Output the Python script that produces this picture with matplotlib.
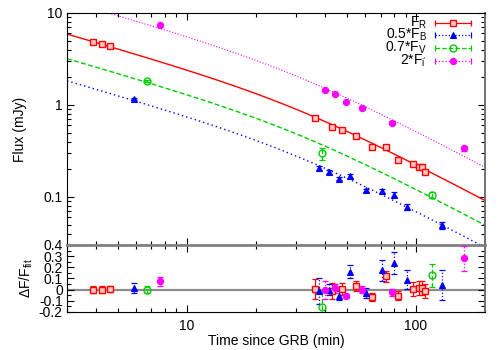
import numpy as np
import matplotlib
matplotlib.use('Agg')
import matplotlib.pyplot as plt
from matplotlib.ticker import FuncFormatter, LogLocator, MultipleLocator, NullFormatter, FixedLocator

plt.rcParams['font.family'] = ['Liberation Sans', 'DejaVu Sans']
plt.rcParams['mathtext.fontset'] = 'custom'
plt.rcParams['mathtext.rm'] = 'Liberation Sans'
plt.rcParams['mathtext.it'] = 'Liberation Sans'
plt.rcParams['mathtext.default'] = 'regular'
plt.rcParams['axes.unicode_minus'] = False

# ---------------- data ----------------
t_R = [3.88, 4.25, 4.61, 36.1, 42.8, 47.6, 54.5, 64.1, 73.8, 83.8, 97.0, 103.5, 106.2, 109.5]
F_R = [4.88, 4.64, 4.41, 0.722, 0.581, 0.528, 0.464, 0.349, 0.349, 0.252, 0.227, 0.209, 0.209, 0.186]
dF_R = [0.12, 0.12, 0.12, 0.04, 0.02, 0.02, 0.015, 0.012, 0.012, 0.009, 0.008, 0.008, 0.008, 0.007]
res_R = [0.0, 0.0, 0.005, 0.005, -0.015, 0.006, 0.034, -0.066, 0.12, -0.055, 0.006, 0.015, 0.015, -0.012]
dres_R = [0.03, 0.03, 0.03, 0.086, 0.073, 0.053, 0.045, 0.04, 0.05, 0.04, 0.065, 0.064, 0.064, 0.065]

t_B = [5.86, 37.9, 41.7, 45.9, 51.5, 60.3, 71.1, 80.2, 91.8, 129.4]
F_B = [1.16, 0.2075, 0.187, 0.158, 0.169, 0.118, 0.116, 0.106, 0.0779, 0.0492]
dF_B = [0.04, 0.01, 0.008, 0.007, 0.007, 0.005, 0.006, 0.006, 0.005, 0.004]
res_B = [0.015, -0.01, 0.0, -0.055, 0.16, -0.03, 0.173, 0.236, 0.09, 0.04]
dres_B = [0.045, 0.118, 0.05, 0.04, 0.06, 0.045, 0.095, 0.1, 0.086, 0.133]

t_V = [6.73, 38.8, 117.5]
F_V = [1.82, 0.299, 0.105]
dF_V = [0.04, 0.045, 0.007]
res_V = [0.0, -0.152, 0.127]
dres_V = [0.03, 0.15, 0.1]

t_I = [7.64, 39.9, 44.1, 49.3, 58.4, 78.5, 161.2]
F_I = [7.46, 1.46, 1.31, 1.08, 0.935, 0.642, 0.338]
dF_I = [0.15, 0.04, 0.03, 0.03, 0.03, 0.02, 0.02]
res_I = [0.075, 0.0, 0.012, -0.055, 0.0, -0.024, 0.28]
dres_I = [0.04, 0.08, 0.04, 0.02, 0.03, 0.03, 0.114]

# smoothly broken power-law fit (red band) and band scale factors
fit_norm = 1.13
fit_tb = 30.0
fit_a1 = 0.72
fit_a2 = 1.32
fit_s = 3.0
band_scale = [1.0, 0.31, 0.54, 2.3]   # R, 0.5*B, 0.7*V, 2*i'

labels = ['F$_R$', '0.5*F$_B$', '0.7*F$_V$', "2*F$_{i'}$"]
colors = ['#ff0000', '#0000ff', '#00cc00', '#ff00ff']


def model(t):
    x = np.asarray(t) / fit_tb
    return fit_norm * (x ** (fit_a1 * fit_s) + x ** (fit_a2 * fit_s)) ** (-1.0 / fit_s)


fig = plt.figure(figsize=(5, 3.5), dpi=100)
ax = fig.add_axes([0.134, 0.30, 0.836, 0.663])
axr = fig.add_axes([0.134, 0.1086, 0.836, 0.1914])

tt = np.logspace(np.log10(3), np.log10(200), 400)
fit_styles = [dict(ls='-', lw=1.0), dict(ls=(0, (1, 2.2)), lw=1.0),
              dict(ls=(0, (3.5, 1.8)), lw=1.0), dict(ls=(0, (1, 1.6)), lw=0.8)]
for k in range(4):
    ax.plot(tt, band_scale[k] * model(tt), color=colors[k], zorder=2, **fit_styles[k])

datasets = [(t_R, F_R, dF_R, res_R, dres_R), (t_B, F_B, dF_B, res_B, dres_B),
            (t_V, F_V, dF_V, res_V, dres_V), (t_I, F_I, dF_I, res_I, dres_I)]
mk = [dict(marker='s', mfc='#ffc8c8', ms=5, mew=1.0),
      dict(marker='^', mfc='#0000ff', ms=5, mew=0.8),
      dict(marker='o', mfc='none', ms=5, mew=1.0),
      dict(marker='o', mfc='#ff00ff', ms=4.5, mew=0.8)]
els = ['-', ':', '--', ':']

axr.axhline(0, color='#8c8c8c', lw=1.6, zorder=1)

for k, (t, F, dF, r, dr) in enumerate(datasets):
    for a, yv, ye in ((ax, F, dF), (axr, r, dr)):
        eb = a.errorbar(t, yv, yerr=ye, fmt='none', ecolor=colors[k], elinewidth=0.9,
                        capsize=2.2, capthick=0.9, zorder=3)
        eb[2][0].set_linestyle(els[k])
        a.plot(t, yv, ls='none', color=colors[k], mec=colors[k], zorder=4, **mk[k])

# top axes
ax.set_xscale('log')
ax.set_yscale('log')
ax.set_xlim(3, 200)
ax.set_ylim(0.03, 10)
ax.yaxis.set_major_locator(FixedLocator([0.1, 1, 10]))
ax.yaxis.set_major_formatter(FuncFormatter(lambda v, p: '%g' % v))
ax.yaxis.set_minor_locator(LogLocator(base=10, subs=np.arange(2, 10)))
ax.yaxis.set_minor_formatter(NullFormatter())
ax.xaxis.set_major_formatter(NullFormatter())
ax.xaxis.set_minor_formatter(NullFormatter())
ax.set_ylabel('Flux (mJy)', fontsize=10, labelpad=12)
ax.spines['bottom'].set_visible(False)
ax.spines['right'].set_color('#707070')
ax.spines['right'].set_linewidth(1.4)

# residual axes
axr.set_xscale('log')
axr.set_xlim(3, 200)
axr.set_ylim(-0.2, 0.4)
axr.yaxis.set_major_locator(MultipleLocator(0.1))
axr.yaxis.set_minor_locator(MultipleLocator(0.05))
axr.yaxis.set_major_formatter(FuncFormatter(lambda v, p: '%g' % round(v, 2)))
axr.xaxis.set_major_formatter(FuncFormatter(lambda v, p: '%g' % v))
axr.xaxis.set_minor_formatter(NullFormatter())
axr.set_xlabel('Time since GRB (min)', fontsize=10, labelpad=1)
axr.set_ylabel('$\\Delta$F/F$_{fit}$', fontsize=10, labelpad=3)
axr.spines['top'].set_color('#808080')
axr.spines['top'].set_linewidth(2.0)
axr.spines['right'].set_color('#707070')
axr.spines['right'].set_linewidth(1.4)

for a in (ax, axr):
    a.tick_params(which='both', direction='in', top=True, right=True, labelsize=10,
                  width=0.8, color='black')
    a.tick_params(which='major', length=5)
    a.tick_params(which='minor', length=3)
    a.tick_params(axis='y', pad=3)
axr.tick_params(axis='x', pad=5)

# manual gnuplot-style key
rows_y = [0.9556, 0.905, 0.850, 0.794]
base_off = 0.0147
x_text, x0, x1 = 0.861, 0.880, 0.967
for k in range(4):
    ax.text(x_text, rows_y[k] - base_off, labels[k], transform=ax.transAxes, ha='right',
            va='baseline', fontsize=10)
    ax.plot([x0, x1], [rows_y[k], rows_y[k]], transform=ax.transAxes, color=colors[k],
            ls=els[k], lw=0.9, clip_on=False)
    ax.plot([x0, x1], [rows_y[k], rows_y[k]], transform=ax.transAxes, color=colors[k],
            ls='none', marker='|', ms=5, mew=0.9, clip_on=False)
    ax.plot([(x0 + x1) / 2], [rows_y[k]], transform=ax.transAxes, color=colors[k],
            ls='none', mec=colors[k], clip_on=False, **mk[k])

fig.savefig('out.png', dpi=100)
